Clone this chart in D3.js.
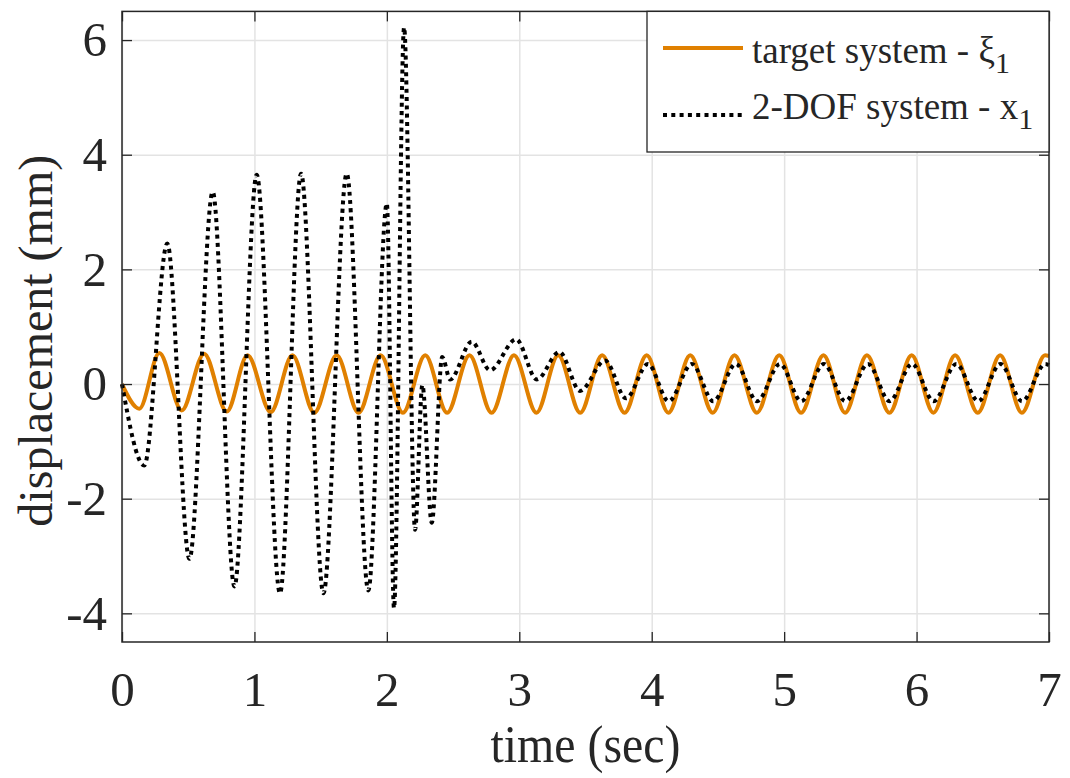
<!DOCTYPE html>
<html>
<head>
<meta charset="utf-8">
<script src="https://cdn.jsdelivr.net/npm/d3@7"></script>
<style>
  body { margin: 0; background: #fff; }
  text { font-family: "Liberation Serif", "Times New Roman", serif; fill: #262626; }
</style>
</head>
<body>
<svg class="dispsvg" width="1070" height="778"></svg>
<script>
// turning points (time in s, displacement in mm)
const targetTime = [0, 0.131, 0.282, 0.451, 0.620, 0.791, 0.948, 1.123, 1.287, 1.452, 1.621, 1.786,
    1.953, 2.121, 2.290, 2.455, 2.624, 2.791, 2.960, 3.130, 3.294, 3.460, 3.626, 3.795, 3.962, 4.126,
    4.291, 4.461, 4.625, 4.794, 4.963, 5.128, 5.297, 5.460, 5.625, 5.795, 5.963, 6.127, 6.291, 6.462,
    6.631, 6.795, 6.970, 7.0];
const targetDisp = [0, -0.43, 0.54, -0.46, 0.53, -0.48, 0.50, -0.49, 0.50, -0.50, 0.50, -0.50,
    0.50, -0.50, 0.50, -0.50, 0.50, -0.50, 0.50, -0.50, 0.50, -0.50, 0.50, -0.50, 0.50, -0.50,
    0.50, -0.50, 0.50, -0.50, 0.50, -0.50, 0.50, -0.50, 0.50, -0.50, 0.50, -0.50, 0.50, -0.50,
    0.50, -0.50, 0.50, 0.49];

const dofTime = [0, 0.168, 0.342, 0.509, 0.685, 0.849, 1.017, 1.193, 1.352, 1.521, 1.697, 1.860,
    2.000, 2.054, 2.130, 2.213, 2.268, 2.339, 2.418, 2.478, 2.641, 2.779, 2.976, 3.132, 3.303, 3.459,
    3.648, 3.806, 3.972, 4.128, 4.303, 4.465, 4.636, 4.796, 4.969, 5.129, 5.300, 5.462, 5.633, 5.796,
    5.966, 6.129, 6.300, 6.466, 6.633, 6.797, 6.972, 7.0];
const dofDisp = [0, -1.42, 2.45, -3.05, 3.35, -3.53, 3.65, -3.65, 3.67, -3.65, 3.67, -3.60,
    3.15, -3.91, 6.22, -2.54, -0.02, -2.42, 0.47, 0.08, 0.74, 0.24, 0.78, 0.08, 0.56, -0.12,
    0.41, -0.25, 0.35, -0.30, 0.35, -0.30, 0.35, -0.30, 0.35, -0.30, 0.35, -0.30, 0.35, -0.30,
    0.35, -0.30, 0.35, -0.30, 0.35, -0.30, 0.35, 0.33];

const xTicks = [0, 1, 2, 3, 4, 5, 6, 7];
const yTicks = [-4, -2, 0, 2, 4, 6];
const seriesNames = ['target system - ξ', '2-DOF system - x'];

var svg = d3.select('.dispsvg');

const render = () => {
    const margin = { top: 11.4, right: 21, bottom: 136, left: 122 };
    const width = +svg.attr('width');
    const height = +svg.attr('height');
    const innerWidth = width - margin.left - margin.right;
    const innerHeight = height - margin.top - margin.bottom;

    const xScale = d3.scaleLinear().domain([0, 7]).range([0, innerWidth]);
    const yScale = d3.scaleLinear().domain([-4.5, 6.5]).range([innerHeight, 0]);
    // plain hyphen for negatives, as in the original figure
    const fmt = d => String(d);

    const g = svg.append('g')
        .attr('transform', `translate(${margin.left}, ${margin.top})`);

    // grid
    g.append('g')
        .attr('class', 'grid')
        .attr('transform', `translate(0, ${innerHeight})`)
        .call(d3.axisBottom(xScale).tickValues(xTicks).tickSize(-innerHeight).tickFormat(''));
    g.append('g')
        .attr('class', 'grid')
        .call(d3.axisLeft(yScale).tickValues(yTicks).tickSize(-innerWidth).tickFormat(''));
    g.selectAll('.grid .domain').remove();
    g.selectAll('.grid line').attr('stroke', '#e3e3e3').attr('stroke-width', 1.5);

    // lines
    const line = d3.line()
        .x(d => xScale(d[0]))
        .y(d => yScale(d[1]))
        .curve(d3.curveMonotoneX);

    const target = targetTime.map((t, i) => [t, targetDisp[i]]);
    const dof = dofTime.map((t, i) => [t, dofDisp[i]]);

    g.append('path')
        .datum(target)
        .attr('d', line)
        .attr('fill', 'none')
        .attr('stroke', '#e08000')
        .attr('stroke-width', 4);

    g.append('path')
        .datum(dof)
        .attr('d', line)
        .attr('fill', 'none')
        .attr('stroke', '#000')
        .attr('stroke-width', 4)
        .attr('stroke-dasharray', '4 4.3');

    // axes with inward ticks on all four sides
    const xAxisG = g.append('g')
        .attr('class', 'axis')
        .attr('transform', `translate(0, ${innerHeight})`)
        .call(d3.axisBottom(xScale).tickValues(xTicks).tickSize(-10).tickPadding(29).tickFormat(fmt));
    g.append('g')
        .attr('class', 'axis')
        .call(d3.axisTop(xScale).tickValues(xTicks).tickSize(-10).tickFormat(''));
    const yAxisG = g.append('g')
        .attr('class', 'axis')
        .call(d3.axisLeft(yScale).tickValues(yTicks).tickSize(-10).tickPadding(15).tickFormat(fmt));
    g.append('g')
        .attr('class', 'axis')
        .attr('transform', `translate(${innerWidth}, 0)`)
        .call(d3.axisRight(yScale).tickValues(yTicks).tickSize(-10).tickFormat(''));

    g.selectAll('.axis .domain').remove();
    g.selectAll('.axis .tick line').attr('stroke', '#262626').attr('stroke-width', 1.3);
    g.selectAll('.axis .tick text')
        .style('font-size', '49px')
        .attr('fill', '#262626');

    g.append('rect')
        .attr('width', innerWidth)
        .attr('height', innerHeight)
        .attr('fill', 'none')
        .attr('stroke', '#262626')
        .attr('stroke-width', 1.5);

    xAxisG.append('text')
        .attr('x', innerWidth / 2)
        .attr('y', 120)
        .attr('text-anchor', 'middle')
        .attr('textLength', 190)
        .attr('lengthAdjust', 'spacingAndGlyphs')
        .style('font-size', '52px')
        .text('time (sec)');

    yAxisG.append('text')
        .attr('transform', 'rotate(-90)')
        .attr('x', -innerHeight / 2 - 14)
        .attr('y', -70)
        .attr('text-anchor', 'middle')
        .style('font-size', '48px')
        .text('displacement (mm)');

    // legend
    const lg = g.append('g')
        .attr('transform', `translate(${innerWidth - 402}, 0)`);
    lg.append('rect')
        .attr('width', 402)
        .attr('height', 140.6)
        .attr('fill', '#fff')
        .attr('stroke', '#262626')
        .attr('stroke-width', 1.3);

    const rows = [
        { color: '#e08000', dash: null, w: 4, ly: 36.6, ty: 51.6 },
        { color: '#000', dash: '4 4.3', w: 4, ly: 103.6, ty: 107.6 }
    ];
    rows.forEach((r, i) => {
        lg.append('line')
            .attr('x1', 16).attr('x2', 96)
            .attr('y1', r.ly).attr('y2', r.ly)
            .attr('stroke', r.color)
            .attr('stroke-width', r.w)
            .attr('stroke-dasharray', r.dash);
        const t = lg.append('text')
            .attr('x', 105)
            .attr('y', r.ty)
            .style('font-size', '37px');
        t.append('tspan').text(seriesNames[i]);
        t.append('tspan')
            .attr('dy', 10)
            .style('font-size', '30px')
            .text('1');
    });
};

render();
</script>
</body>
</html>
